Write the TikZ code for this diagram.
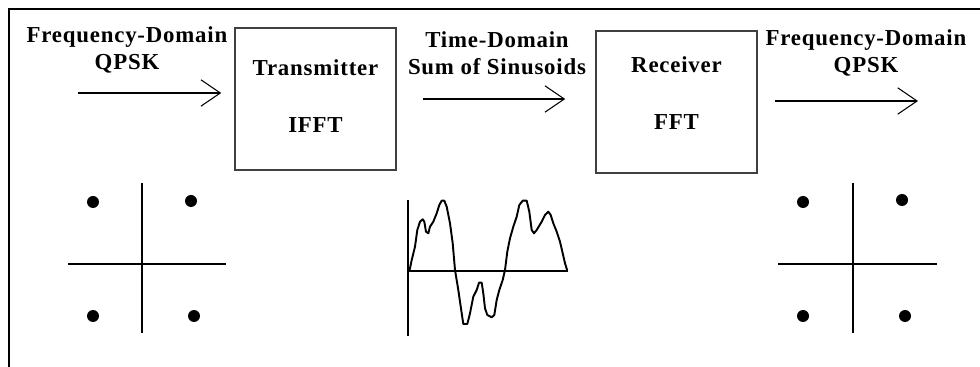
\documentclass[tikz,border=0pt]{standalone}
\usepackage{fontspec}
\newfontfamily\labelfont{Liberation Serif}[LetterSpace=3.5]
\usetikzlibrary{arrows.meta, positioning}

\begin{document}
\begin{tikzpicture}[
        x=0.02cm, y=-0.02cm,
        every node/.style={font=\labelfont\bfseries\fontsize{13}{15.6}\selectfont, align=center},
        block/.style={rectangle, draw=black!75, line width=0.9pt, minimum width=3.22cm, minimum height=2.84cm, inner sep=0pt},
        arr/.style={-{Straight Barb[length=11pt, width=15pt]}, line width=0.6pt},
        axis/.style={line width=0.7pt},
        wave/.style={line width=1.1pt, line join=round},
        dot/.style={circle, fill=black, inner sep=0pt, minimum size=0.24cm},
        frame/.style={line width=1.1pt}
    ]
        \useasboundingbox (0,0) rectangle (980,367);
        \draw[frame] (9,367) -- (9,9) -- (980,9);

        % Blocks
        \node[block, text depth=3.7pt] (tx) at (315.5,99) {Transmitter\\[17pt]IFFT};
        \node[block, text depth=10pt]  (rx) at (676.5,102) {Receiver\\[17pt]FFT};

        % Signal labels
        \node (lin)  at (127,50)   {Frequency-Domain\\QPSK};
        \node (lmid) at (497,53)   {Time-Domain\\Sum of Sinusoids};
        \node (lout) at (866,53)   {Frequency-Domain\\QPSK};

        % Arrows
        \coordinate (in)  at (78,93);
        \coordinate (out) at (918,101);
        \draw[arr, shorten >=0.26cm] (in) -- (in -| tx.west);
        \draw[arr, shorten <=0.52cm, shorten >=0.6cm] (tx.east) -- (tx.east -| rx.west);
        \draw[arr, shorten <=0.34cm] (rx.east |- out) -- (out);

        % QPSK constellation (input)
        \coordinate (c1) at (142,264);
        \draw[axis] (c1) ++(-74,0) -- ++(158,0);
        \draw[axis] (c1) ++(0,-81) -- ++(0,150);
        \node[dot] (c1a) at (93,202)  {};
        \node[dot] (c1b) at (191,201) {};
        \node[dot] (c1c) at (93,316)  {};
        \node[dot] (c1d) at (194,316) {};

        % QPSK constellation (output)
        \coordinate (c2) at (853,264);
        \draw[axis] (c2) ++(-75,0) -- ++(159,0);
        \draw[axis] (c2) ++(0,-81) -- ++(0,150);
        \node[dot] (c2a) at (803,202) {};
        \node[dot] (c2b) at (902,200) {};
        \node[dot] (c2c) at (803,316) {};
        \node[dot] (c2d) at (905,316) {};

        % Time-domain waveform
        \coordinate (w0) at (408,271);
        \draw[axis] (w0) ++(0,-71) -- ++(0,136);
        \draw[axis] (w0) -- ++(160,0);
        \draw[wave] plot coordinates {
            (409.3,271.7) (411.7,260) (415,246.7) (417.3,230) (420,221.7)
            (422.7,219.3) (424.3,221.7) (426,231.7) (428.3,233.3) (430,226.7)
            (433.3,221.7) (436.7,213.3) (439.3,205) (441.7,200.7) (444.3,200.7)
            (446.7,206.7) (450,223.3) (452.7,243.3) (455,270) (458.3,290)
            (461.7,313.3) (463.3,324) (467.3,324) (470,313.3) (473.3,296.7)
            (476.7,290) (479,282.7) (481.7,282.7) (483.3,293.3) (485,308.3)
            (487.3,315) (491.7,317.3) (494.3,315) (496.7,300) (499.3,290)
            (502.7,280) (505,270) (507.3,251.7) (510,238.3) (513.3,226.7)
            (516.7,216.7) (519.3,205) (522.7,200.7) (526.7,200.7) (529.3,211.7)
            (531.7,230) (534,233.3) (536.7,230) (541.7,221.7) (545,215)
            (548.3,211.7) (550.7,215) (553.3,223.3) (556.7,231.7) (560,241.7)
            (562.7,253.3) (565,263.3) (567.3,270.7)};
    \end{tikzpicture}
\end{document}
